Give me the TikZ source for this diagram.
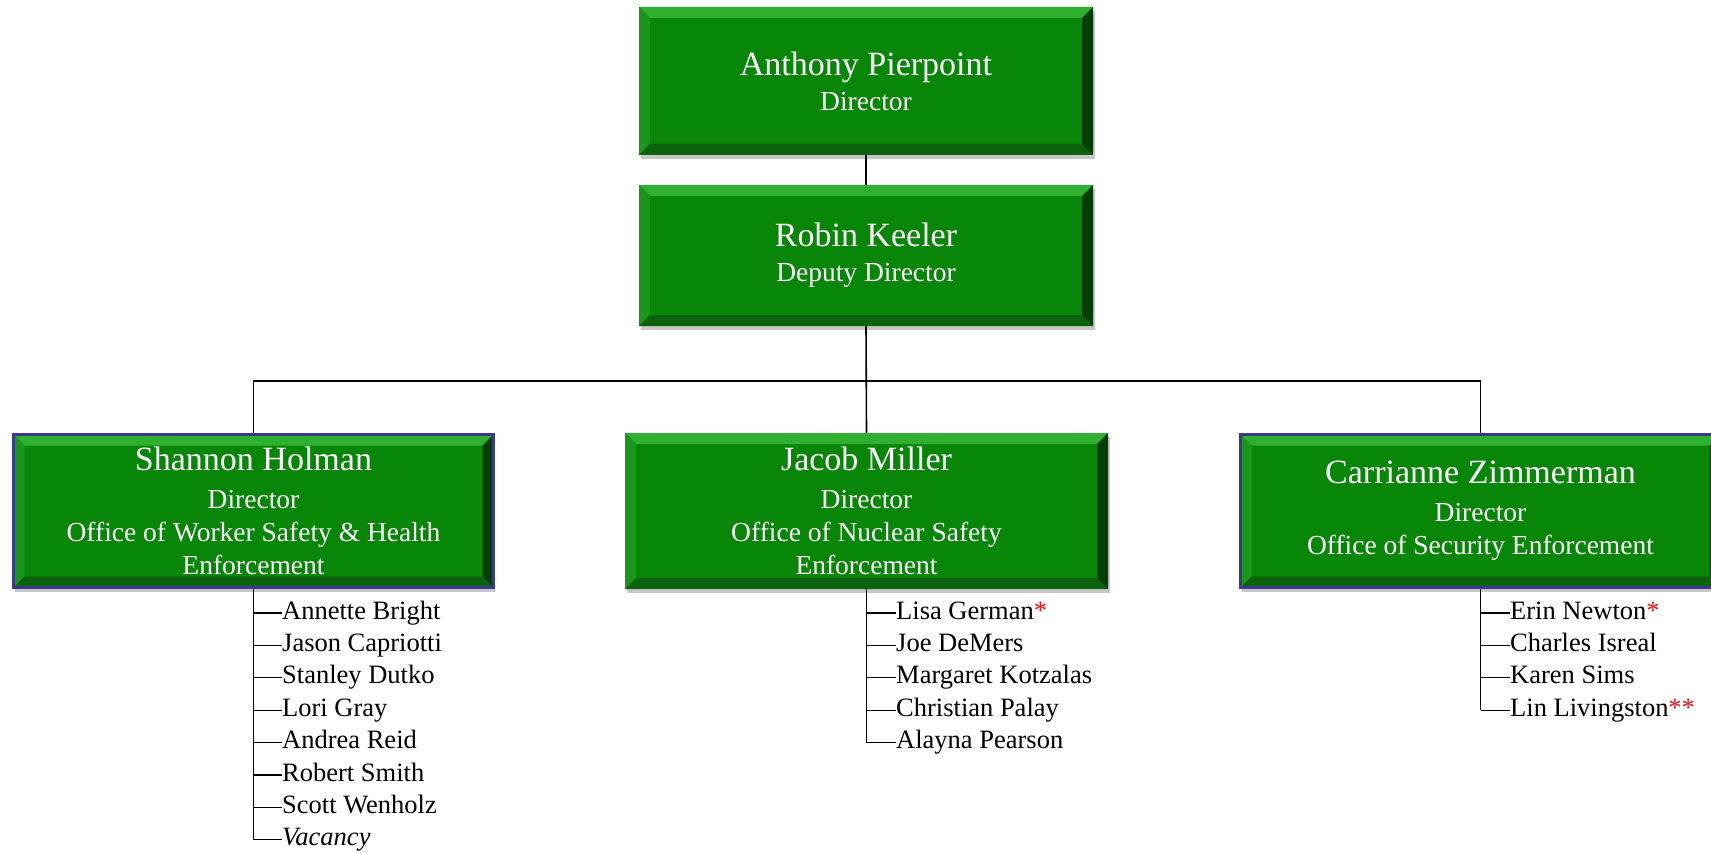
\documentclass[tikz,border=0pt]{standalone}
\usepackage{fontspec}
\setmainfont{Liberation Serif}
\usepackage{tikz}
\usetikzlibrary{positioning, calc, shadows}
\definecolor{boxgreen}{RGB}{8,134,8}
\definecolor{bevellight}{RGB}{48,176,48}
\definecolor{bevelleft}{RGB}{26,150,26}
\definecolor{beveldark}{RGB}{3,62,3}
\definecolor{bevelbottom}{RGB}{12,98,12}
\definecolor{officeblue}{RGB}{58,58,140}
\definecolor{starred}{RGB}{240,20,20}
\newcommand{\namefont}{\fontsize{34}{38}\selectfont}
\newcommand{\rolefont}{\fontsize{27.5}{33}\selectfont}
\newcommand{\staffstar}{\textcolor{starred}{*}}

\tikzset{
	bevel/.style={path picture={
		\fill[bevellight] (path picture bounding box.north west) -- (path picture bounding box.north east) -- ([shift={(-11pt,-11pt)}]path picture bounding box.north east) -- ([shift={(11pt,-11pt)}]path picture bounding box.north west) -- cycle;
		\fill[bevelleft] (path picture bounding box.north west) -- ([shift={(11pt,-11pt)}]path picture bounding box.north west) -- ([shift={(11pt,11pt)}]path picture bounding box.south west) -- (path picture bounding box.south west) -- cycle;
		\fill[bevelbottom] (path picture bounding box.south west) -- ([shift={(11pt,11pt)}]path picture bounding box.south west) -- ([shift={(-11pt,11pt)}]path picture bounding box.south east) -- (path picture bounding box.south east) -- cycle;
		\fill[beveldark] (path picture bounding box.south east) -- ([shift={(-11pt,11pt)}]path picture bounding box.south east) -- ([shift={(-11pt,-11pt)}]path picture bounding box.north east) -- (path picture bounding box.north east) -- cycle;
	}},
	unitbox/.style={fill=boxgreen, bevel, text=white, align=center, inner sep=0pt, font=\rolefont,
		minimum width=454pt, drop shadow={shadow xshift=1.5pt, shadow yshift=-4pt, fill=black, opacity=0.22}},
	officebox/.style={unitbox, minimum width=480pt, minimum height=153pt},
	bluebox/.style={officebox, draw=officeblue, line width=3pt},
	staff/.style={inner sep=0pt, text height=22pt, text depth=10pt, font=\fontsize{26.5}{32}\selectfont},
	link/.style={line width=1.6pt},
	tick/.style={line width=1.2pt}
}

\begin{document}
\begin{tikzpicture}[x=1pt, y=-1pt]
	\useasboundingbox (0,0) rectangle (1711,853);

	% head office
	\node[unitbox, minimum height=148pt] (dir) at (866,81) {{\namefont Anthony Pierpoint}\\[2pt] Director};
	\node[unitbox, minimum height=141pt] (dep) at (866,255.5) {{\namefont Robin Keeler}\\[2pt] Deputy Director};

	% offices
	\node[bluebox] (whs) at (253.5,511) {{\namefont Shannon Holman}\\[5pt] Director\\ Office of Worker Safety \& Health\\ Enforcement};
	\node[officebox, minimum width=483pt, minimum height=156pt] (nsf) at (866.5,511) {{\namefont Jacob Miller}\\[5pt] Director\\ Office of Nuclear Safety\\ Enforcement};
	\node[bluebox] (sec) at (1480.5,511) {{\namefont Carrianne Zimmerman}\\[5pt] Director\\ Office of Security Enforcement};

	\coordinate (bar) at (866,381);
	\draw[link] (dir) -- (dep);
	\draw[link] (dep.south) -- (nsf.north);
	\draw[link] (whs.north) |- (bar) -| (sec.north);

	% worker safety & health staff
	\node[staff, anchor=west] (ann) at (282,613) {Annette Bright};
	\node[staff, below=0pt of ann.south west, anchor=north west] (jas) {Jason Capriotti};
	\node[staff, below=0pt of jas.south west, anchor=north west] (sta) {Stanley Dutko};
	\node[staff, below=0pt of sta.south west, anchor=north west] (lor) {Lori Gray};
	\node[staff, below=0pt of lor.south west, anchor=north west] (and) {Andrea Reid};
	\node[staff, below=0pt of and.south west, anchor=north west] (rob) {Robert Smith};
	\node[staff, below=0pt of rob.south west, anchor=north west] (sco) {Scott Wenholz};
	\node[staff, below=0pt of sco.south west, anchor=north west] (vac) {\textit{Vacancy}};
	\draw[link] (whs.south) -- (whs.south |- vac.west);
	\foreach \p in {ann,jas,sta,lor,and,rob,sco,vac}
		\draw[tick] (whs.south |- \p.west) -- (\p.west);

	% nuclear safety staff
	\node[staff, anchor=west] (lis) at (896,613) {Lisa German\staffstar};
	\node[staff, below=0pt of lis.south west, anchor=north west] (joe) {Joe DeMers};
	\node[staff, below=0pt of joe.south west, anchor=north west] (mar) {Margaret Kotzalas};
	\node[staff, below=0pt of mar.south west, anchor=north west] (chr) {Christian Palay};
	\node[staff, below=0pt of chr.south west, anchor=north west] (ala) {Alayna Pearson};
	\draw[link] (nsf.south) -- (nsf.south |- ala.west);
	\foreach \p in {lis,joe,mar,chr,ala}
		\draw[tick] (nsf.south |- \p.west) -- (\p.west);

	% security staff
	\node[staff, anchor=west] (eri) at (1510,613) {Erin Newton\staffstar};
	\node[staff, below=0pt of eri.south west, anchor=north west] (cha) {Charles Isreal};
	\node[staff, below=0pt of cha.south west, anchor=north west] (kar) {Karen Sims};
	\node[staff, below=0pt of kar.south west, anchor=north west] (lin) {Lin Livingston\staffstar\staffstar};
	\draw[link] (sec.south) -- (sec.south |- lin.west);
	\foreach \p in {eri,cha,kar,lin}
		\draw[tick] (sec.south |- \p.west) -- (\p.west);
\end{tikzpicture}
\end{document}
